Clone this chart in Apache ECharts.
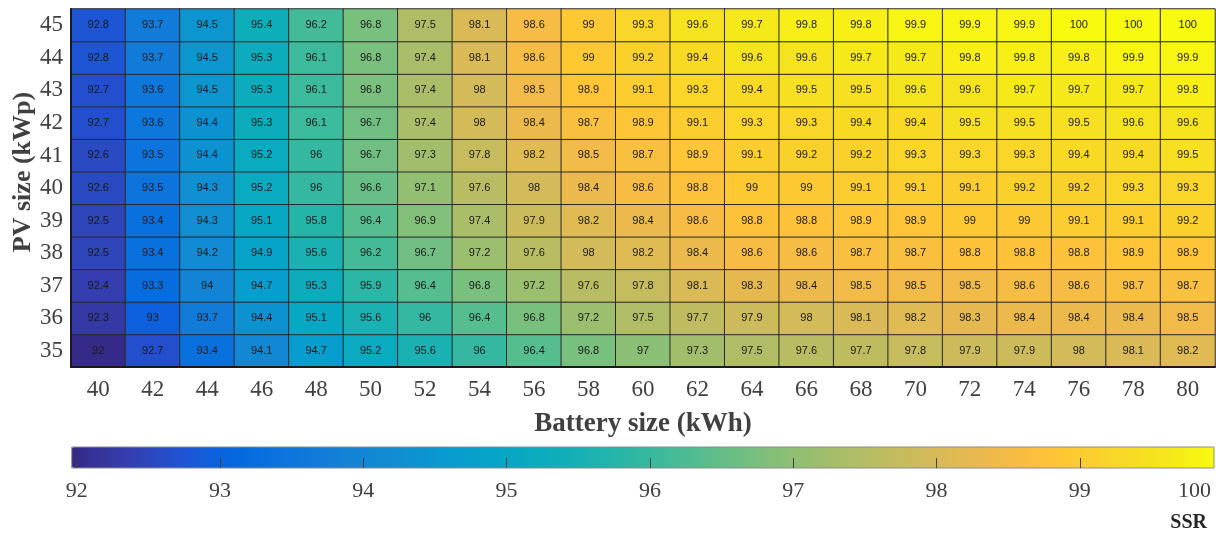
<!DOCTYPE html>
<html>
<head>
<meta charset="utf-8">
<script src="https://cdn.jsdelivr.net/npm/echarts@6/dist/echarts.min.js"></script>
<style>
  html, body { margin: 0; padding: 0; background: #fff; }
  #chart { width: 1216px; height: 533px; }
</style>
</head>
<body>
<div id="chart"></div>
<script>
// Battery sizes (kWh) along x, PV sizes (kWp) along y
const batterySizes = [40, 42, 44, 46, 48, 50, 52, 54, 56, 58, 60, 62, 64, 66, 68, 70, 72, 74, 76, 78, 80];
const pvSizes = [35, 36, 37, 38, 39, 40, 41, 42, 43, 44, 45];

// Self-sufficiency ratio (%) per PV size, one value per battery size
const ssr35 = [92, 92.7, 93.4, 94.1, 94.7, 95.2, 95.6, 96, 96.4, 96.8, 97, 97.3, 97.5, 97.6, 97.7, 97.8, 97.9, 97.9, 98, 98.1, 98.2];
const ssr36 = [92.3, 93, 93.7, 94.4, 95.1, 95.6, 96, 96.4, 96.8, 97.2, 97.5, 97.7, 97.9, 98, 98.1, 98.2, 98.3, 98.4, 98.4, 98.4, 98.5];
const ssr37 = [92.4, 93.3, 94, 94.7, 95.3, 95.9, 96.4, 96.8, 97.2, 97.6, 97.8, 98.1, 98.3, 98.4, 98.5, 98.5, 98.5, 98.6, 98.6, 98.7, 98.7];
const ssr38 = [92.5, 93.4, 94.2, 94.9, 95.6, 96.2, 96.7, 97.2, 97.6, 98, 98.2, 98.4, 98.6, 98.6, 98.7, 98.7, 98.8, 98.8, 98.8, 98.9, 98.9];
const ssr39 = [92.5, 93.4, 94.3, 95.1, 95.8, 96.4, 96.9, 97.4, 97.9, 98.2, 98.4, 98.6, 98.8, 98.8, 98.9, 98.9, 99, 99, 99.1, 99.1, 99.2];
const ssr40 = [92.6, 93.5, 94.3, 95.2, 96, 96.6, 97.1, 97.6, 98, 98.4, 98.6, 98.8, 99, 99, 99.1, 99.1, 99.1, 99.2, 99.2, 99.3, 99.3];
const ssr41 = [92.6, 93.5, 94.4, 95.2, 96, 96.7, 97.3, 97.8, 98.2, 98.5, 98.7, 98.9, 99.1, 99.2, 99.2, 99.3, 99.3, 99.3, 99.4, 99.4, 99.5];
const ssr42 = [92.7, 93.6, 94.4, 95.3, 96.1, 96.7, 97.4, 98, 98.4, 98.7, 98.9, 99.1, 99.3, 99.3, 99.4, 99.4, 99.5, 99.5, 99.5, 99.6, 99.6];
const ssr43 = [92.7, 93.6, 94.5, 95.3, 96.1, 96.8, 97.4, 98, 98.5, 98.9, 99.1, 99.3, 99.4, 99.5, 99.5, 99.6, 99.6, 99.7, 99.7, 99.7, 99.8];
const ssr44 = [92.8, 93.7, 94.5, 95.3, 96.1, 96.8, 97.4, 98.1, 98.6, 99, 99.2, 99.4, 99.6, 99.6, 99.7, 99.7, 99.8, 99.8, 99.8, 99.9, 99.9];
const ssr45 = [92.8, 93.7, 94.5, 95.4, 96.2, 96.8, 97.5, 98.1, 98.6, 99, 99.3, 99.6, 99.7, 99.8, 99.8, 99.9, 99.9, 99.9, 100, 100, 100];

// Colour scale range and its tick labels
const ssrMin = 92;
const ssrMax = 100;
const colorbarTicks = [92, 93, 94, 95, 96, 97, 98, 99, 100];

const ssrRows = [ssr35, ssr36, ssr37, ssr38, ssr39, ssr40, ssr41, ssr42, ssr43, ssr44, ssr45];

// parula colormap samples
const parula = ['#352A87', '#353DAD', '#2053D4', '#0268E1', '#0D75DC', '#1481D6', '#108ED2', '#079CCF',
  '#06A7C6', '#0FAEB9', '#25B5A9', '#42BB98', '#65BE86', '#87BF77', '#A5BE6B', '#C0BC60', '#D9BA56',
  '#F1B94A', '#FFC337', '#FAD32A', '#F5E41D', '#F9FB0E'];

const heatData = [];
ssrRows.forEach((row, yi) => {
  row.forEach((v, xi) => heatData.push([xi, yi, v]));
});

const serif = 'Liberation Serif';
const sans = 'Liberation Sans';
const textGrey = '#404040';

const chart = echarts.init(document.getElementById('chart'), null, { renderer: 'canvas' });

chart.setOption({
  backgroundColor: '#ffffff',
  animation: false,
  grid: [
    // heatmap
    { left: 71, right: 1, top: 9, height: 358, containLabel: false, outerBoundsMode: 'none' },
    // colour bar scale (ticks and labels)
    { left: 76.7, width: 1146.4, top: 447, height: 21, containLabel: false, outerBoundsMode: 'none' },
    // colour bar frame
    {
      left: 71.7, width: 1142.3, top: 447, height: 21, containLabel: false, outerBoundsMode: 'none',
      show: true, borderColor: '#8c8c8c', borderWidth: 1, backgroundColor: 'rgba(0,0,0,0)', z: 10
    }
  ],
  xAxis: [
    {
      gridIndex: 0,
      type: 'category',
      data: batterySizes,
      name: 'Battery size (kWh)',
      nameLocation: 'middle',
      nameGap: 44,
      nameMoveOverlap: false,
      nameTextStyle: { fontFamily: serif, fontWeight: 'bold', fontSize: 27, color: textGrey },
      axisLine: { show: true, lineStyle: { color: '#1a1a1a', width: 2 } },
      axisTick: { show: false },
      axisLabel: { fontFamily: serif, fontSize: 23, color: textGrey, margin: 11 },
      splitLine: { show: false },
      z: 5
    },
    {
      gridIndex: 1,
      type: 'value',
      min: ssrMin,
      max: ssrMax,
      interval: 1,
      position: 'bottom',
      axisLine: { show: false },
      axisTick: { show: true, inside: true, length: 10, lineStyle: { color: '#404040', width: 1 } },
      axisLabel: {
        fontFamily: serif, fontSize: 22, color: textGrey, margin: 12,
        formatter: v => {
          if (!colorbarTicks.includes(v)) return '';
          return v === ssrMax ? '{end|' + v + '}' : String(v);
        },
        rich: {
          end: { fontFamily: serif, fontSize: 22, color: textGrey, padding: [0, 57, 0, 0] }
        }
      },
      splitLine: { show: false },
      z: 11
    },
    {
      gridIndex: 2,
      type: 'value',
      show: false,
      min: 0,
      max: 1
    }
  ],
  yAxis: [
    {
      gridIndex: 0,
      type: 'category',
      data: pvSizes,
      name: 'PV size (kWp)',
      nameLocation: 'middle',
      nameGap: 35,
      nameRotate: 90,
      nameMoveOverlap: false,
      nameTextStyle: { fontFamily: serif, fontWeight: 'bold', fontSize: 26, color: textGrey, padding: [0, 0, 0, 32] },
      axisLine: { show: true, lineStyle: { color: '#1a1a1a', width: 2 } },
      axisTick: { show: false },
      axisLabel: { fontFamily: serif, fontSize: 23, color: textGrey, margin: 8 },
      splitLine: { show: false },
      z: 5
    },
    {
      gridIndex: 1,
      type: 'value',
      show: false,
      min: 0,
      max: 1
    },
    {
      gridIndex: 2,
      type: 'value',
      show: false,
      min: 0,
      max: 1
    }
  ],
  visualMap: {
    type: 'continuous',
    seriesIndex: 0,
    min: ssrMin,
    max: ssrMax,
    orient: 'horizontal',
    left: 71.7,
    top: 447,
    itemWidth: 21,
    itemHeight: 1142.3,
    padding: 0,
    calculable: false,
    hoverLink: false,
    showLabel: false,
    text: null,
    inRange: { color: parula },
    z: 4
  },
  graphic: [
    {
      type: 'text',
      right: 9,
      top: 513,
      style: { text: 'SSR', fontFamily: serif, fontWeight: 'bold', fontSize: 20, fill: '#262626' }
    }
  ],
  series: [
    {
      type: 'heatmap',
      xAxisIndex: 0,
      yAxisIndex: 0,
      data: heatData,
      itemStyle: { borderColor: '#2a2a2a', borderWidth: 1 },
      label: {
        show: true,
        fontFamily: sans,
        fontSize: 11,
        color: '#1a1a1a',
        formatter: p => String(p.value[2])
      },
      emphasis: { disabled: true }
    }
  ]
});
</script>
</body>
</html>
